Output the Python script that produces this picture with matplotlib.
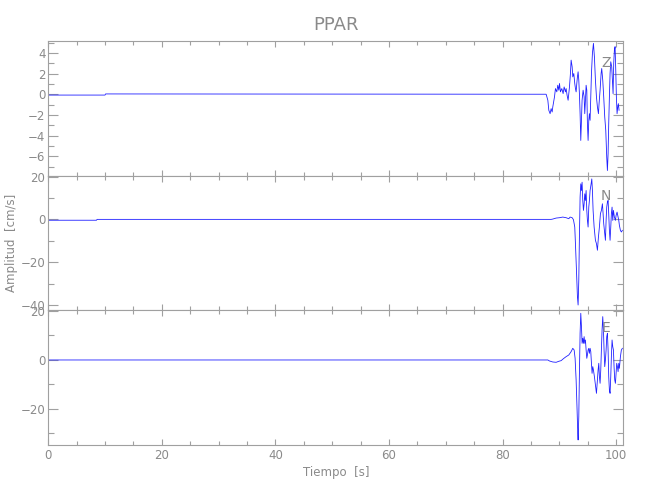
import matplotlib
matplotlib.use("Agg")
import matplotlib.pyplot as plt
from matplotlib.ticker import MultipleLocator

# ---------------- data ----------------
title = "PPAR"
components = ["Z", "N", "E"]
x_label = "Tiempo  [s]"
y_label = "Amplitud  [cm/s]"

t_z = [0.0, 10.0, 10.1, 87.68, 87.98, 88.15, 88.38, 88.56, 88.74, 88.85, 89.15, 89.32,
       89.56, 89.73, 89.91, 90.03, 90.20, 90.44, 90.67, 90.85, 91.08, 91.20, 91.37,
       91.55, 91.67, 91.79, 91.96, 92.08, 92.26, 92.37, 92.55, 92.72, 92.84, 92.96,
       93.08, 93.19, 93.31, 93.43, 93.54, 93.66, 93.78, 93.90, 94.01, 94.19, 94.37,
       94.48, 94.60, 94.72, 94.84, 94.95, 95.07, 95.19, 95.30, 95.42, 95.54, 95.66,
       95.83, 96.01, 96.18, 96.36, 96.54, 96.71, 96.89, 97.00, 97.18, 97.36, 97.47,
       97.65, 97.82, 98.00, 98.18, 98.35, 98.47, 98.59, 98.70, 98.82, 98.94, 99.06,
       99.23, 99.35, 99.47, 99.58, 99.70, 99.82, 99.94, 100.05, 100.17, 100.29,
       100.40, 100.52]
v_z = [-0.08, -0.08, 0.03, 0.0, -0.58, -1.55, -1.88, -1.39, -1.72, -1.23, -0.26, 0.55,
       0.23, 0.87, 0.39, 1.04, 0.23, 0.55, 0.06, 0.71, 0.23, 0.55, -0.10,
       -0.58, 0.06, 0.71, 2.01, 3.30, 2.65, 1.68, 2.01, 1.04, 0.55, 0.23,
       1.04, 1.68, 2.17, 1.36, 0.06, -1.88, -4.47, -2.52, -0.58, 0.39, -0.26,
       -1.88, -0.58, 0.87, 0.39, -2.85, -4.47, -2.52, -1.88, -2.52, -0.26, 2.01,
       3.95, 4.92, 3.62, 1.36, -0.26, -1.23, -1.88, -0.91, 0.39, 2.01, 2.49,
       1.36, -0.26, -2.20, -3.50, -6.08, -7.38, -5.76, -2.85, -0.26, 2.01, 3.14,
       2.65, 1.36, 0.06, 2.98, 4.27, 4.60, 2.33, -0.26, -1.88, -1.23,
       -0.91, -1.55]

t_n = [0.0, 8.5, 8.6, 88.56, 88.85, 89.44, 90.03, 90.61, 91.20, 91.67, 91.90, 92.26,
       92.49, 92.72, 92.84, 93.02, 93.19, 93.31, 93.43, 93.54, 93.66, 93.78, 93.90,
       94.01, 94.13, 94.25, 94.37, 94.48, 94.60, 94.72, 94.84, 94.95, 95.07, 95.19,
       95.30, 95.42, 95.60, 95.72, 95.83, 95.95, 96.13, 96.36, 96.54, 96.71, 96.89,
       97.06, 97.24, 97.41, 97.59, 97.71, 97.82, 97.94, 98.12, 98.24, 98.35, 98.47,
       98.59, 98.70, 98.82, 98.94, 99.06, 99.17, 99.29, 99.41, 99.53, 99.70, 99.88,
       100.00, 100.17, 100.35, 100.47, 100.58, 100.76, 100.93, 101.11]
v_n = [-0.4, -0.4, 0.0, 0.0, 0.15, 0.62, 0.78, 1.08, 0.78, 0.31, 1.08, 0.78,
       -0.15, -3.57, -11.32, -23.72, -36.12, -40.0, -28.37, -8.22, 10.39, 16.59, 13.49,
       17.36, 8.84, 4.19, 7.29, 11.94, 8.84, 13.49, 4.19, -0.47, -3.57, 5.74,
       8.84, 13.49, 16.59, 18.91, 13.49, 4.19, -3.57, -9.77, -11.32, -14.42, -8.22,
       -3.57, 2.64, 4.19, 7.29, 2.64, -2.02, -5.12, -9.77, -0.47, 5.74, 8.06,
       8.84, 2.64, -5.12, -9.77, -3.57, 2.64, 5.74, -0.47, 4.19, 1.08, -0.47,
       1.86, 3.41, 1.08, -0.47, -2.79, -5.12, -5.89, -5.12]

t_e = [0.0, 87.98, 88.27, 88.85, 89.44, 89.91, 90.32, 90.73, 91.20, 91.67, 92.08,
       92.37, 92.61, 92.78, 92.96, 93.13, 93.25, 93.31, 93.43, 93.54, 93.66, 93.78,
       93.90, 94.01, 94.13, 94.25, 94.37, 94.48, 94.60, 94.72, 94.84, 94.95, 95.07,
       95.19, 95.30, 95.42, 95.54, 95.66, 95.77, 95.89, 96.01, 96.18, 96.36, 96.54,
       96.71, 96.83, 96.95, 97.06, 97.18, 97.30, 97.41, 97.53, 97.65, 97.77, 97.88,
       98.00, 98.12, 98.24, 98.35, 98.47, 98.59, 98.70, 98.82, 98.94, 99.06, 99.17,
       99.29, 99.41, 99.53, 99.64, 99.76, 99.88, 100.00, 100.11, 100.23, 100.35,
       100.47, 100.58, 100.76, 100.93, 101.11]
v_e = [0.0, 0.0, -0.41, -0.82, -0.95, -0.54, -0.27, 0.54, 1.36, 2.04, 3.40,
       4.76, 4.08, 0.68, -8.16, -20.41, -29.93, -32.65, -23.13, -5.44, 10.88, 19.05,
       13.61, 6.80, 8.84, 6.80, 9.52, 6.80, 8.16, 4.08, 0.68, 2.04, 4.08,
       4.76, 2.72, 4.76, 3.40, -1.36, -5.44, -2.72, -4.08, -6.80, -10.20, -13.61,
       -8.16, -4.08, -1.36, -6.80, -9.52, -4.08, 4.08, 12.24, 17.69, 12.24, 4.08,
       -2.72, 0.0, 4.08, 9.52, 10.88, 4.08, -6.80, -12.24, -13.61, -6.80, 1.36,
       8.16, 5.44, 4.08, -2.72, -8.16, -9.52, -5.44, -1.36, -2.72, -4.76,
       -1.36, -3.40, 1.36, 4.08, 4.76]

x_range = (0, 101.3)
y_ranges = [(-7.86, 5.15), (-42.1, 20.5), (-34.7, 20.6)]
y_major = [2, 20, 20]
y_minor = [1, 10, 10]
x_major, x_minor = 20, 5

# ---------------- styling ----------------
grey = "#8a8a8a"
spine_grey = "#a0a0a0"
font = ["Liberation Sans Narrow", "DejaVu Sans"]
plt.rcParams["font.family"] = font
plt.rcParams["font.size"] = 8.5

fig = plt.figure(figsize=(6.5, 5), dpi=100)
left, width = 0.0742, 0.885
bottoms = [0.649, 0.381, 0.110]
heights = [0.269, 0.268, 0.271]

series = [(t_z, v_z), (t_n, v_n), (t_e, v_e)]
label_y = [0.84, 0.85, 0.86]

for i, ((t, v), comp) in enumerate(zip(series, components)):
    ax = fig.add_axes([left, bottoms[i], width, heights[i]])
    ax.plot(t, v, color="#2020ff", lw=0.6)
    ax.set_xlim(*x_range)
    ax.set_ylim(*y_ranges[i])
    ax.xaxis.set_major_locator(MultipleLocator(x_major))
    ax.xaxis.set_minor_locator(MultipleLocator(x_minor))
    ax.yaxis.set_major_locator(MultipleLocator(y_major[i]))
    ax.yaxis.set_minor_locator(MultipleLocator(y_minor[i]))
    for s in ax.spines.values():
        s.set_color(spine_grey)
        s.set_linewidth(0.8)
    ax.tick_params(axis="both", which="both", direction="in", top=True, right=True,
                   colors=spine_grey, labelcolor=grey, width=0.8)
    ax.tick_params(axis="y", which="major", length=7, pad=2)
    ax.tick_params(axis="y", which="minor", length=4)
    ax.tick_params(axis="x", which="major", length=4, pad=3)
    ax.tick_params(axis="x", which="minor", length=3)
    if i < 2:
        ax.tick_params(axis="x", labelbottom=False)
    ax.text(0.97, label_y[i], comp, transform=ax.transAxes, color=grey,
            fontsize=10, ha="center", va="center")
    if i == 0:
        ax.set_title(title, color=grey, fontsize=13, pad=8)
    if i == 1:
        ax.set_ylabel(y_label, color=grey)
        ax.yaxis.set_label_coords(-0.052, 0.5)
    if i == 2:
        ax.set_xlabel(x_label, color=grey, labelpad=3)

fig.savefig("out.png", dpi=100)
